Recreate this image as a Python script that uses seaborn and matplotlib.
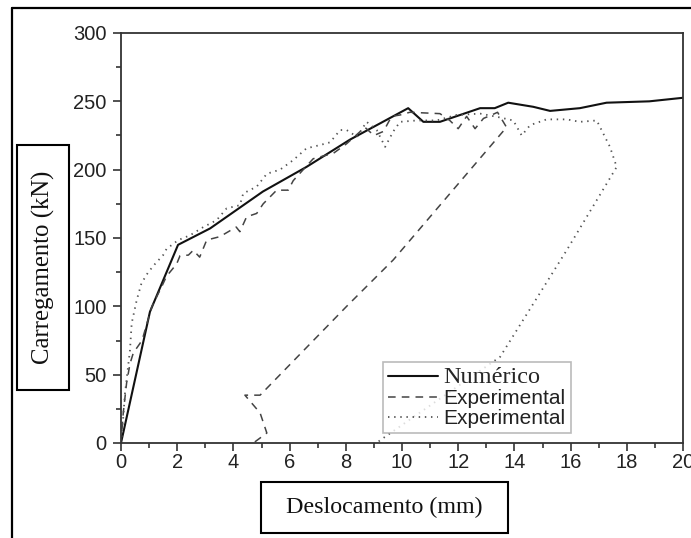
import matplotlib
matplotlib.use("Agg")
import matplotlib.pyplot as plt
import seaborn as sns
import pandas as pd
from matplotlib.ticker import MultipleLocator
from matplotlib.patches import Rectangle
from matplotlib.lines import Line2D

# ---------------- data ----------------
num_x = [0, 1.03, 2.03, 3.17, 5.05, 6.6, 8.15, 10.22, 10.76, 11.35, 12.78, 13.3,
         13.78, 14.67, 15.27, 16.33, 17.28, 18.8, 20.0]
num_y = [0, 96, 145, 157, 184, 202, 222, 245, 235, 235, 245, 245,
         249, 246, 243, 245, 249, 250, 252.6]

exp1_x = [0, 0.08, 0.2, 0.32, 0.44, 0.68, 0.79, 1.1, 1.44, 1.62, 1.98, 2.1, 2.4, 2.57,
          2.8, 3.05, 3.52, 4.1, 4.23, 4.47, 4.83, 5.06, 5.54, 5.95, 6.13, 6.84, 7.56,
          8.03, 8.68, 9.0, 9.34, 9.63, 9.93, 10.28, 11.35, 11.7, 12.0, 12.3, 12.6,
          12.9, 13.19, 13.4, 13.72, 9.69, 8.03, 4.95, 4.41, 4.95, 5.19, 4.71]
exp1_y = [0, 22, 44, 58, 66, 73, 78, 100, 114, 122, 131, 137, 137.5, 141,
          136, 148.5, 151, 158, 154.6, 165.5, 168, 175, 185, 185, 192, 208, 212,
          219, 231, 225, 228, 239, 240, 242, 241, 236, 230, 239, 230,
          237.5, 240, 242, 231, 134, 100, 35, 35, 22, 7.3, 0]

exp2_x = [0, 0.08, 0.14, 0.32, 0.38, 0.56, 0.73, 0.97, 1.21, 1.5, 1.62, 2.04, 2.46,
          2.93, 3.4, 3.76, 4.23, 4.35, 4.83, 5.19, 5.66, 6.13, 6.6, 7.08, 7.44, 7.8,
          8.03, 8.4, 8.74, 9.1, 9.4, 9.69, 9.93, 10.52, 11.23, 11.94, 12.78, 13.37,
          13.96, 14.26, 14.56, 15.15, 15.86, 16.33, 16.93, 17.4, 17.64, 15.86,
          13.49, 9.22, 9.1]
exp2_y = [0, 19, 36, 68, 87.6, 104.6, 117, 125, 131, 137.5, 142, 148.5, 152,
          158, 163, 171.7, 174, 182.6, 187.6, 197, 200, 207, 215.6, 218, 220, 229,
          229, 224, 235, 229, 216.7, 228, 235, 236, 236, 240, 241, 238.7,
          236, 225, 232.6, 236.8, 236.8, 235, 236, 216.7, 202, 141,
          63, 2, 0]

x_label = "Deslocamento (mm)"
y_label = "Carregamento (kN)"
series_labels = ["Numérico", "Experimental", "Experimental"]

# ---------------- figure ----------------
sns.set_style("white")
plt.rcParams["font.family"] = ["Liberation Sans", "DejaVu Sans"]

W, H = 691, 538
fig = plt.figure(figsize=(W / 100, H / 100), dpi=100)
ax = fig.add_axes([121 / W, (H - 443) / H, 562 / W, 410 / H])

sns.lineplot(x=num_x, y=num_y, sort=False, estimator=None, ax=ax,
             color="#111111", lw=1.5, label=series_labels[0])
sns.lineplot(x=exp1_x, y=exp1_y, sort=False, estimator=None, ax=ax,
             color="#444444", lw=1.1, label=series_labels[1])
sns.lineplot(x=exp2_x, y=exp2_y, sort=False, estimator=None, ax=ax,
             color="#555555", lw=1.3, label=series_labels[2])
lines = ax.get_lines()
lines[1].set_linestyle((0, (5, 4)))
lines[2].set_linestyle((0, (0.8, 2.6)))

ax.set_xlim(0, 20)
ax.set_ylim(0, 300)
ax.xaxis.set_major_locator(MultipleLocator(2))
ax.xaxis.set_minor_locator(MultipleLocator(1))
ax.yaxis.set_major_locator(MultipleLocator(50))
ax.yaxis.set_minor_locator(MultipleLocator(25))
ax.tick_params(which="both", direction="out", color="#333333", width=1.2,
               labelsize=14.5, labelcolor="#222222")
ax.tick_params(which="major", length=6)
ax.tick_params(which="minor", length=3.5)
ax.tick_params(axis="x", which="both", pad=1.5)
ax.tick_params(axis="y", which="both", pad=4.5)
ax.tick_params(axis="x", which="both", bottom=True)
ax.tick_params(axis="y", which="both", left=True)
for s in ax.spines.values():
    s.set_visible(True)
    s.set_color("#333333")
    s.set_linewidth(1.3)
ax.set_xlabel("")
ax.set_ylabel("")

leg = ax.legend(loc="lower left", bbox_to_anchor=(0.466, 0.024),
                borderaxespad=0, frameon=True, fancybox=False,
                handlelength=2.4, handletextpad=0.25, labelspacing=0.05,
                borderpad=0.25, fontsize=15)
leg.get_frame().set_edgecolor("#aaaaaa")
leg.get_frame().set_linewidth(1.2)
texts = leg.get_texts()
texts[0].set_fontfamily(["Liberation Serif", "DejaVu Serif"])
texts[0].set_fontsize(17.5)
for t in texts[1:]:
    t.set_fontfamily(["Liberation Sans", "DejaVu Sans"])
    t.set_fontsize(15)
    t.set_color("#222222")

# ---------------- label boxes and outer frame ----------------
def px_box(x0, y0, x1, y1):
    return (x0 / W, (H - y1) / H, (x1 - x0) / W, (y1 - y0) / H)

bx, by, bw, bh = px_box(17, 145, 69, 390)
fig.add_artist(Rectangle((bx, by), bw, bh, transform=fig.transFigure,
                         fill=True, facecolor="white", edgecolor="black", lw=1.5))
fig.text(bx + bw / 2, by + bh / 2, y_label, rotation=90, ha="center", va="center",
         fontsize=17.8, family=["Liberation Serif", "DejaVu Serif"], color="#111111")

bx, by, bw, bh = px_box(261, 482, 508, 533)
fig.add_artist(Rectangle((bx, by), bw, bh, transform=fig.transFigure,
                         fill=True, facecolor="white", edgecolor="black", lw=1.5))
fig.text(bx + bw / 2, by + bh / 2, x_label, ha="center", va="center",
         fontsize=17.3, family=["Liberation Serif", "DejaVu Serif"], color="#111111")

fig.add_artist(Line2D([12 / W, 12 / W], [0, 1 - 8 / H], transform=fig.transFigure,
                      color="black", lw=1.6))
fig.add_artist(Line2D([12 / W, 1], [1 - 8 / H, 1 - 8 / H], transform=fig.transFigure,
                      color="black", lw=1.6))

fig.savefig("out.png", dpi=100)
